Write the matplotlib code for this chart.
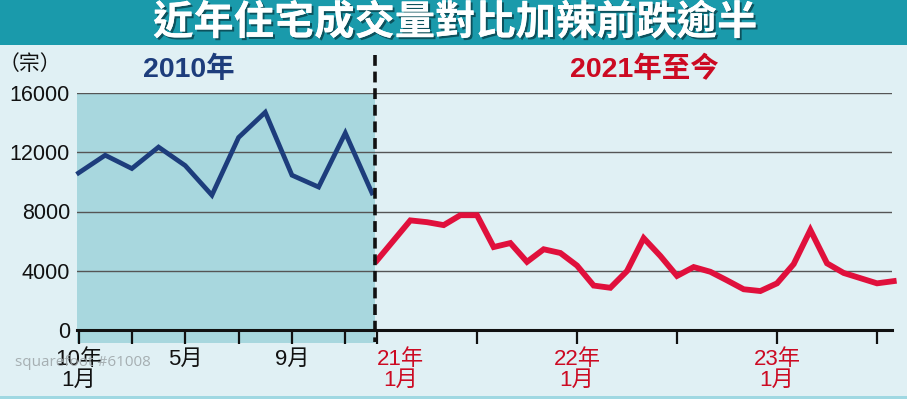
import matplotlib
matplotlib.use("Agg")
import matplotlib.pyplot as plt
from matplotlib.patches import Rectangle
import matplotlib.patheffects as pe

plt.rcParams['font.family'] = ['Liberation Sans', 'Noto Sans CJK TC', 'DejaVu Sans']

# ---- data ----
title = "近年住宅成交量對比加辣前跌逾半"
unit_label = "（宗）"
left_title = "2010年"
right_title = "2021年至今"

sales_2010 = [10600, 11800, 10900, 12350, 11100, 9100, 13000, 14700, 10450, 9650, 13300, 9250]
sales_2021_on = [4700, 6050, 7400, 7280, 7080, 7750, 7750, 5600, 5870, 4600, 5450, 5200,
                 4350, 3000, 2850, 3980, 6200, 5000, 3650, 4250, 3930, 3350, 2750, 2630,
                 3150, 4450, 6750, 4500, 3850, 3500, 3150, 3300]
yticks = [0, 4000, 8000, 12000, 16000]
left_tick_pos = [0, 2, 4, 6, 8, 10]
left_tick_labels = {0: "10年\n1月", 4: "5月", 8: "9月"}
right_tick_pos = [0, 6, 12, 18, 24, 30]
right_tick_labels = {0: "21年\n1月", 12: "22年\n1月", 24: "23年\n1月"}

W, H = 907, 399
BG = "#e0f0f4"
SHADE = "#a8d7de"
TEAL = "#1a9aab"
NAVY = "#1d3d7c"
RED = "#e0103c"
RED_TXT = "#cc0a22"

fig = plt.figure(figsize=(W / 100, H / 100), dpi=100)
fig.patch.set_facecolor(BG)

def fbox(x0, y0, x1, y1):
    return [x0 / W, 1 - y1 / H, (x1 - x0) / W, (y1 - y0) / H]

# title band
fig.patches.append(Rectangle((0, 1 - 45 / H), 1, 45 / H, transform=fig.transFigure,
                             facecolor=TEAL, edgecolor="none", zorder=-2))
fig.patches.append(Rectangle((0, 0), 1, 3 / H, transform=fig.transFigure,
                             facecolor="#9fd8e2", edgecolor="none", zorder=-2))
fig.text(455 / W, 1 - 23 / H, title, ha="center", va="center", color="white",
         fontsize=29, fontweight="bold", family=["Noto Sans CJK TC"],
         path_effects=[pe.withSimplePatchShadow(offset=(1.5, -1.5), shadow_rgbFace="#0b4a55", alpha=0.9),
                       pe.Normal()])

# shaded left area (extends under tick marks)
fig.patches.append(Rectangle((77 / W, 1 - 343 / H), (375 - 77) / W, (343 - 93) / H,
                             transform=fig.transFigure, facecolor=SHADE, edgecolor="none", zorder=-2))

# axes
axL = fig.add_axes(fbox(77, 93, 375, 330))
axR = fig.add_axes(fbox(375, 93, 892, 330))

sL = 26.68
sR = 16.67
axL.set_xlim(-1.5 / sL, 11 + 3 / sL)
axR.set_xlim(-2 / sR, 31 - 1.7 / sR)

for ax in (axL, axR):
    ax.set_facecolor("none")
    ax.set_ylim(0, 16000)
    for s in ("top", "right", "left"):
        ax.spines[s].set_visible(False)
    ax.spines["bottom"].set_linewidth(2.2)
    ax.spines["bottom"].set_color("#111111")
    ax.set_yticks(yticks)
    for v in yticks[1:]:
        ax.axhline(v, color="#555555", lw=1.0, zorder=1)
    ax.tick_params(axis="x", direction="out", length=10, width=1.6, color="#111111",
                   labelbottom=False)
    ax.tick_params(axis="y", length=0)

axL.set_yticklabels([str(v) for v in yticks], fontsize=15.5, color="#111111")
axL.tick_params(axis="y", pad=5)
axR.set_yticklabels([])

axL.set_xticks(left_tick_pos)
axR.set_xticks(right_tick_pos)

axL.plot(range(len(sales_2010)), sales_2010, color=NAVY, lw=3.4, solid_joinstyle="miter",
         zorder=3, clip_on=False)
axR.plot(range(len(sales_2021_on)), sales_2021_on, color=RED, lw=4.2, solid_joinstyle="miter",
         zorder=3, clip_on=False)

# tick labels
for pos, lab in left_tick_labels.items():
    axL.annotate(lab, xy=(pos, 0), xycoords="data", xytext=(0, -13.5), textcoords="offset points",
                 ha="center", va="top", fontsize=16, color="#111111", linespacing=1.0,
                 annotation_clip=False)
for pos, lab in right_tick_labels.items():
    xoff = 17 if pos == 0 else 0
    axR.annotate(lab, xy=(pos, 0), xycoords="data", xytext=(xoff, -13.5), textcoords="offset points",
                 ha="center", va="top", fontsize=16, color=RED_TXT, linespacing=1.0,
                 annotation_clip=False)

# dashed divider
fig.add_artist(plt.Line2D([375 / W, 375 / W], [1 - 55 / H, 1 - 342 / H], transform=fig.transFigure,
                          color="#111111", lw=2.6, linestyle=(0, (3, 1.6)), zorder=5))

# headers
fig.text(30 / W, 1 - 64 / H, unit_label, ha="center", va="center", fontsize=15,
         color="#111111", family=["Noto Sans CJK TC"])
fig.text(189 / W, 1 - 69 / H, left_title, ha="center", va="center", fontsize=20.5,
         fontweight="bold", color=NAVY)
fig.text(644 / W, 1 - 69 / H, right_title, ha="center", va="center", fontsize=20.5,
         fontweight="bold", color=RED_TXT)

# watermark (overlaps the first tick label, as in the reference)
fig.text(15 / W, 1 - 362 / H, "squarefoot #61008", ha="left", va="center", fontsize=11,
         color="#a0a8ab", alpha=0.9, family=["Open Sans"], zorder=10)

fig.savefig("out.png", dpi=100, facecolor=BG)
